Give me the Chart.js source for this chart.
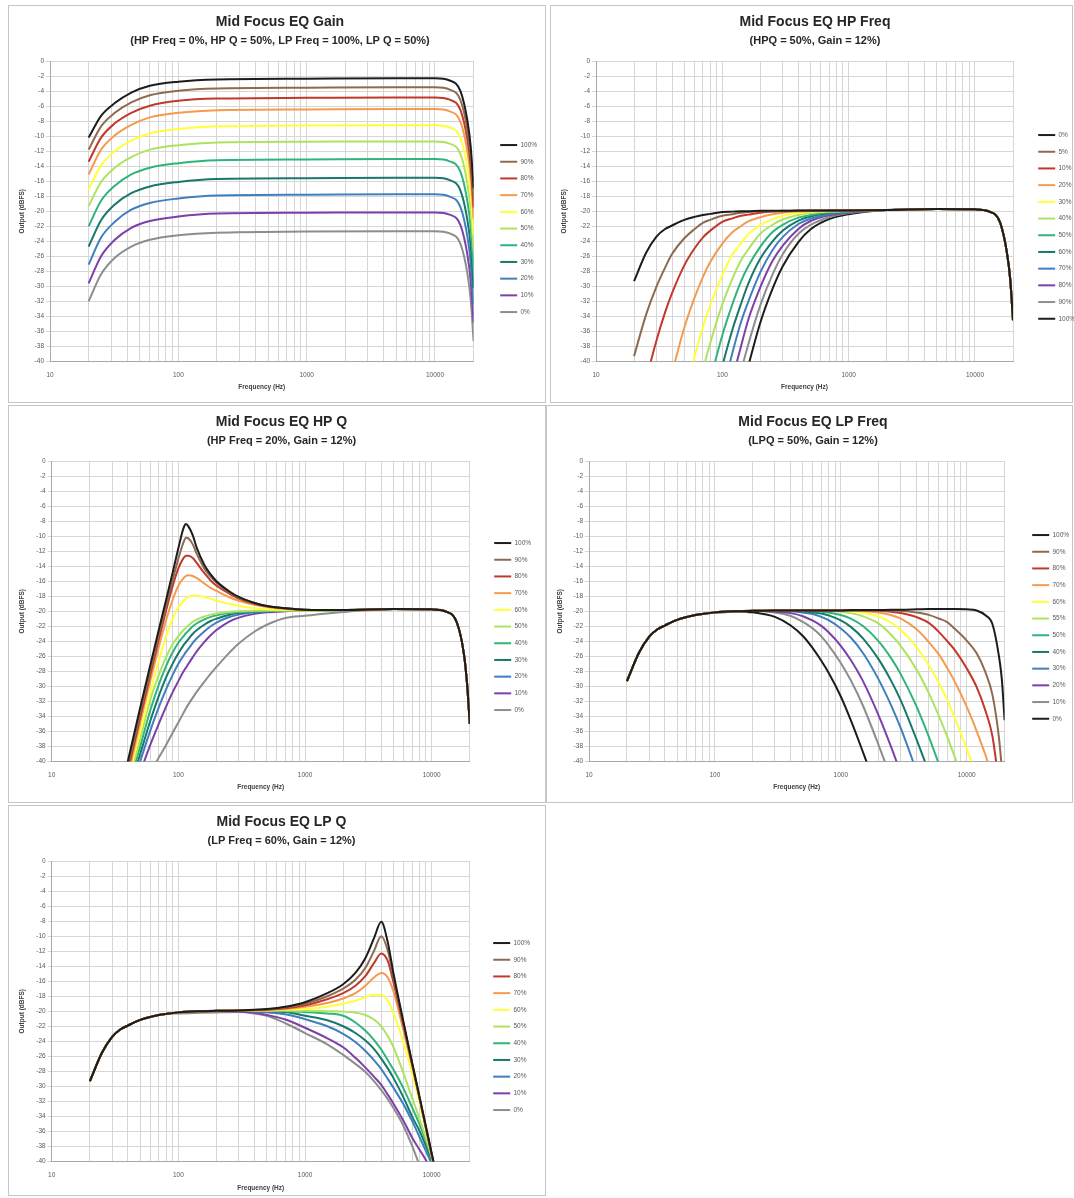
<!doctype html>
<html>
<head>
<meta charset="utf-8">
<title>Mid Focus EQ</title>
<script src="https://cdn.jsdelivr.net/npm/chart.js@4.4.1/dist/chart.umd.min.js"></script>
<style>
  html, body { margin: 0; padding: 0; background: #fff; }
  body { position: relative; width: 1074px; height: 1198px; overflow: hidden; }
  .frame { position: absolute; border: 1px solid #c6c6c6; box-sizing: border-box; }
  canvas { position: absolute; }
</style>
</head>
<body>
<div class="frame" style="left:8px;top:5px;width:538px;height:398px"></div>
<div class="frame" style="left:550px;top:5px;width:523px;height:398px"></div>
<div class="frame" style="left:8px;top:405px;width:538px;height:398px"></div>
<div class="frame" style="left:546px;top:405px;width:527px;height:398px"></div>
<div class="frame" style="left:8px;top:805px;width:538px;height:391px"></div>

<canvas id="gainChart" style="left:8px;top:5px" width="538" height="398"></canvas>
<canvas id="hpFreqChart" style="left:550px;top:5px" width="540" height="398"></canvas>
<canvas id="hpQChart" style="left:8px;top:405px" width="538" height="398"></canvas>
<canvas id="lpFreqChart" style="left:546px;top:405px" width="540" height="398"></canvas>
<canvas id="lpQChart" style="left:8px;top:805px" width="538" height="391"></canvas>

<script>
// ---- data (frequency in Hz, output in dBFS) ----
var freqTicks = [10, 20, 30, 40, 50, 60, 70, 80, 90, 100, 200, 300, 400, 500, 600, 700, 800, 900,
  1000, 2000, 3000, 4000, 5000, 6000, 7000, 8000, 9000, 10000, 20000];
var freqLabels = [10, 100, 1000, 10000];

// Gain
var gainFreqs = [20, 25, 32, 43, 60, 100, 200, 1000, 5000, 10000, 13000, 15800, 17900, 19000, 20000];
var gainLabels = ['100%', '90%', '80%', '70%', '60%', '50%', '40%', '30%', '20%', '10%', '0%'];
var gainSeries = [
  [-10.2, -7.3, -5.6, -4.2, -3.3, -2.75, -2.45, -2.35, -2.3, -2.3, -2.6, -4.0, -7.95, -11.45, -16.95],
  [-11.8, -8.7, -6.9, -5.5, -4.55, -3.95, -3.65, -3.55, -3.5, -3.5, -3.8, -5.2, -9.15, -12.65, -18.15],
  [-13.4, -10.2, -8.3, -6.9, -5.95, -5.3, -5.0, -4.9, -4.85, -4.85, -5.15, -6.55, -10.5, -14.0, -19.5],
  [-15.1, -11.8, -9.9, -8.5, -7.5, -6.9, -6.55, -6.45, -6.4, -6.4, -6.7, -8.1, -12.05, -15.55, -21.05],
  [-17.1, -13.9, -12.0, -10.6, -9.65, -9.05, -8.7, -8.6, -8.55, -8.55, -8.85, -10.25, -14.2, -17.7, -23.2],
  [-19.3, -16.1, -14.2, -12.8, -11.8, -11.2, -10.85, -10.75, -10.7, -10.7, -11.0, -12.4, -16.35, -19.85, -25.35],
  [-22.0, -18.6, -16.6, -15.1, -14.2, -13.6, -13.2, -13.1, -13.05, -13.05, -13.35, -14.75, -18.7, -22.2, -27.7],
  [-24.7, -21.2, -19.1, -17.6, -16.7, -16.1, -15.7, -15.6, -15.55, -15.55, -15.85, -17.25, -21.2, -24.7, -30.2],
  [-27.1, -23.5, -21.4, -19.8, -18.9, -18.3, -17.9, -17.8, -17.75, -17.75, -18.05, -19.45, -23.4, -26.9, -32.4],
  [-29.6, -26.0, -23.8, -22.2, -21.3, -20.7, -20.3, -20.2, -20.15, -20.15, -20.45, -21.85, -25.8, -29.3, -34.8],
  [-32.0, -28.4, -26.2, -24.7, -23.8, -23.2, -22.85, -22.7, -22.65, -22.65, -22.95, -24.35, -28.3, -31.8, -37.3]
];

// HP Freq
var hpFreqFreqs = [20, 25, 30, 35, 40, 50, 60, 70, 80, 100, 120, 140, 160, 200, 250, 300, 400, 500, 700, 1000,
  2000, 5000, 10000, 13000, 15800, 17900, 19000, 20000];
var hpFreqLabels = ['0%', '5%', '10%', '20%', '30%', '40%', '50%', '60%', '70%', '80%', '90%', '100%'];
var hpFreqSeries = [
  [-29.3, -25.5, -23.4, -22.4, -21.9, -21.15, -20.75, -20.5, -20.35, -20.1, -20.05, -20.0, -20.0, -19.95, -19.95, -19.95, -19.9, -19.9, -19.9, -19.9, -19.85, -19.7, -19.75, -20.05, -21.5, -25.5, -29.0, -34.5],
  [-39.3, -33.7, -30.1, -27.6, -25.7, -23.6, -22.4, -21.55, -21.15, -20.6, -20.4, -20.2, -20.1, -20.0, -20.0, -19.95, -19.95, -19.9, -19.9, -19.9, -19.85, -19.7, -19.75, -20.05, -21.5, -25.5, -29.0, -34.5],
  [-48.8, -42.3, -37.3, -33.6, -30.9, -27.2, -25.0, -23.5, -22.6, -21.4, -20.95, -20.6, -20.45, -20.2, -20.05, -20.0, -19.95, -19.95, -19.9, -19.9, -19.85, -19.7, -19.75, -20.05, -21.5, -25.5, -29.0, -34.5],
  [null, null, null, -45.4, -41.5, -35.5, -31.6, -28.8, -26.8, -24.3, -22.8, -22.0, -21.35, -20.8, -20.4, -20.2, -20.05, -20.0, -19.95, -19.9, -19.85, -19.7, -19.75, -20.05, -21.5, -25.5, -29.0, -34.5],
  [null, null, null, null, null, -44.8, -39.5, -35.5, -32.55, -28.5, -25.8, -24.3, -23.05, -21.85, -21.05, -20.6, -20.25, -20.1, -20.0, -19.95, -19.85, -19.7, -19.75, -20.05, -21.5, -25.5, -29.0, -34.5],
  [null, null, null, null, null, null, -45.7, -41.2, -37.6, -32.4, -29.0, -26.6, -25.1, -23.0, -21.8, -21.1, -20.5, -20.25, -20.05, -20.0, -19.85, -19.7, -19.75, -20.05, -21.5, -25.5, -29.0, -34.5],
  [null, null, null, null, null, null, null, -46.5, -42.6, -36.5, -32.4, -29.4, -27.35, -24.7, -22.75, -21.8, -20.85, -20.5, -20.15, -20.0, -19.85, -19.7, -19.75, -20.05, -21.5, -25.5, -29.0, -34.5],
  [null, null, null, null, null, null, null, null, -47.1, -40.6, -35.8, -32.4, -29.7, -26.3, -24.0, -22.6, -21.25, -20.7, -20.25, -20.05, -19.85, -19.7, -19.75, -20.05, -21.5, -25.5, -29.0, -34.5],
  [null, null, null, null, null, null, null, null, -50.6, -44.1, -38.9, -34.85, -32.1, -28.1, -25.15, -23.45, -21.7, -21.0, -20.4, -20.1, -19.85, -19.7, -19.75, -20.05, -21.5, -25.5, -29.0, -34.5],
  [null, null, null, null, null, null, null, null, null, -47.6, -42.3, -38.1, -34.5, -30.1, -26.6, -24.6, -22.35, -21.3, -20.55, -20.2, -19.85, -19.7, -19.75, -20.05, -21.5, -25.5, -29.0, -34.5],
  [null, null, null, null, null, null, null, null, null, null, -45.9, -41.4, -37.8, -32.5, -28.4, -25.75, -23.0, -21.8, -20.8, -20.25, -19.85, -19.7, -19.75, -20.05, -21.5, -25.5, -29.0, -34.5],
  [null, null, null, null, null, null, null, null, null, null, null, -44.6, -40.7, -34.8, -30.3, -27.35, -24.1, -22.4, -21.05, -20.4, -19.85, -19.7, -19.75, -20.05, -21.5, -25.5, -29.0, -34.5]
];

// HP Q
var hpQFreqs = [30, 40, 50, 60, 70, 80, 90, 100, 110, 115, 120, 130, 140, 160, 180, 200, 250, 300, 400, 500, 700, 1000,
  2000, 5000, 10000, 13000, 15800, 17900, 19000, 20000];
var hpQLabels = ['100%', '90%', '80%', '70%', '60%', '50%', '40%', '30%', '20%', '10%', '0%'];
var hpQSeries = [
  [-49.5, -39.9, -32.8, -27.2, -22.5, -18.5, -14.9, -11.6, -8.9, -8.4, -8.7, -9.9, -11.6, -13.8, -15.1, -16.0, -17.3, -18.1, -18.9, -19.3, -19.6, -19.8, -19.85, -19.7, -19.75, -20.05, -21.5, -25.5, -29.5, -35],
  [-50.2, -40.6, -33.5, -27.9, -23.2, -19.3, -15.9, -13.0, -10.8, -10.2, -10.3, -11.1, -12.4, -14.3, -15.4, -16.2, -17.4, -18.2, -18.9, -19.3, -19.6, -19.8, -19.85, -19.7, -19.75, -20.05, -21.5, -25.5, -29.5, -35],
  [-50.8, -41.2, -34.1, -28.5, -23.8, -19.9, -16.7, -14.3, -12.9, -12.6, -12.6, -12.9, -13.6, -14.9, -15.9, -16.6, -17.6, -18.3, -19.0, -19.35, -19.6, -19.8, -19.85, -19.7, -19.75, -20.05, -21.5, -25.5, -29.5, -35],
  [-51.4, -41.8, -34.8, -29.3, -24.8, -21.2, -18.5, -16.6, -15.6, -15.3, -15.2, -15.3, -15.6, -16.3, -16.9, -17.3, -18.1, -18.6, -19.15, -19.45, -19.7, -19.85, -19.85, -19.7, -19.75, -20.05, -21.5, -25.5, -29.5, -35],
  [-53.0, -42.5, -36.0, -30.8, -26.6, -23.4, -21.0, -19.5, -18.6, -18.3, -18.1, -17.95, -17.95, -18.1, -18.35, -18.6, -19.0, -19.3, -19.6, -19.75, -19.85, -19.9, -19.85, -19.7, -19.75, -20.05, -21.5, -25.5, -29.5, -35],
  [-54.0, -43.2, -37.0, -31.8, -28.5, -26.1, -24.4, -23.3, -22.5, -22.2, -21.9, -21.4, -21.1, -20.7, -20.45, -20.3, -20.1, -20.0, -19.95, -19.9, -19.9, -19.9, -19.85, -19.7, -19.75, -20.05, -21.5, -25.5, -29.5, -35],
  [-55.0, -43.8, -38.0, -33.2, -29.8, -27.3, -25.5, -24.2, -23.3, -22.9, -22.6, -22.0, -21.6, -21.1, -20.75, -20.55, -20.25, -20.1, -20.0, -19.95, -19.9, -19.9, -19.85, -19.7, -19.75, -20.05, -21.5, -25.5, -29.5, -35],
  [-56.0, -44.5, -39.0, -34.6, -31.3, -28.8, -27.0, -25.6, -24.5, -24.1, -23.7, -23.0, -22.5, -21.8, -21.3, -21.0, -20.5, -20.25, -20.05, -20.0, -19.9, -19.9, -19.85, -19.7, -19.75, -20.05, -21.5, -25.5, -29.5, -35],
  [-57.0, -45.3, -40.0, -35.9, -32.8, -30.4, -28.5, -27.0, -25.9, -25.4, -25.0, -24.2, -23.6, -22.7, -22.0, -21.5, -20.8, -20.45, -20.15, -20.05, -19.95, -19.9, -19.85, -19.7, -19.75, -20.05, -21.5, -25.5, -29.5, -35],
  [-58.0, -46.5, -41.5, -37.8, -35.0, -32.7, -30.8, -29.3, -28.0, -27.5, -27.0, -26.1, -25.3, -24.1, -23.2, -22.5, -21.4, -20.85, -20.35, -20.15, -20.0, -19.9, -19.85, -19.7, -19.75, -20.05, -21.5, -25.5, -29.5, -35],
  [-50.5, -46.6, -43.7, -41.4, -39.5, -37.8, -36.2, -34.8, -33.5, -32.9, -32.4, -31.5, -30.7, -29.4, -28.3, -27.4, -25.6, -24.3, -22.7, -21.8, -20.9, -20.6, -20.1, -19.75, -19.75, -20.05, -21.5, -25.5, -29.5, -35]
];

// LP Freq
var lpFreqFreqs = [20, 25, 30, 35, 40, 50, 60, 70, 80, 100, 150, 200, 300, 400, 500, 600, 700, 800, 1000, 1200, 1500,
  2000, 2500, 3000, 4000, 5000, 6000, 7000, 8000, 10000, 12000, 14000, 16000, 18000, 19000, 20000];
var lpFreqLabels = ['100%', '90%', '80%', '70%', '60%', '55%', '50%', '40%', '30%', '20%', '10%', '0%'];
var lpFreqSeries = [
  [-29.3, -25.5, -23.4, -22.4, -21.9, -21.15, -20.75, -20.5, -20.35, -20.15, -20.0, -19.95, -19.9, -19.9, -19.9, -19.9, -19.9, -19.9, -19.9, -19.85, -19.85, -19.85, -19.8, -19.8, -19.75, -19.7, -19.7, -19.7, -19.7, -19.75, -19.9, -20.5, -21.7, -25.9, -29.0, -34.5],
  [-29.3, -25.5, -23.4, -22.4, -21.9, -21.15, -20.75, -20.5, -20.35, -20.15, -20.0, -19.95, -19.9, -19.9, -19.9, -19.9, -19.9, -19.9, -19.9, -19.9, -19.9, -19.9, -19.9, -19.95, -20.17, -20.48, -20.97, -21.45, -22.3, -23.9, -25.6, -28.0, -31.1, -36.7, -40.8, null],
  [-29.3, -25.5, -23.4, -22.4, -21.9, -21.15, -20.75, -20.5, -20.35, -20.15, -20.0, -19.95, -19.9, -19.9, -19.9, -19.9, -19.9, -19.9, -19.9, -19.9, -19.9, -19.95, -20.06, -20.24, -20.79, -21.55, -22.74, -23.98, -25.1, -27.6, -30.1, -33.1, -36.6, -42.8, null, null],
  [-29.3, -25.5, -23.4, -22.4, -21.9, -21.15, -20.75, -20.5, -20.35, -20.15, -20.0, -19.95, -19.9, -19.9, -19.9, -19.9, -19.9, -19.9, -19.9, -19.9, -19.96, -20.18, -20.51, -20.98, -22.4, -24.1, -25.74, -27.55, -29.3, -32.7, -35.95, -39.0, -42.0, null, null, null],
  [-29.3, -25.5, -23.4, -22.4, -21.9, -21.15, -20.75, -20.5, -20.35, -20.15, -20.0, -19.95, -19.9, -19.9, -19.9, -19.9, -19.9, -19.9, -19.95, -20.01, -20.2, -20.7, -21.5, -22.5, -24.77, -27.2, -29.55, -31.8, -34.1, -38.3, -41.9, null, null, null, null, null],
  [-29.3, -25.5, -23.4, -22.4, -21.9, -21.15, -20.75, -20.5, -20.35, -20.15, -20.0, -19.95, -19.9, -19.9, -19.9, -19.9, -19.95, -19.95, -20.07, -20.25, -20.67, -21.65, -23.1, -24.64, -27.77, -30.9, -33.9, -36.7, -39.3, -43.7, null, null, null, null, null, null],
  [-29.3, -25.5, -23.4, -22.4, -21.9, -21.15, -20.75, -20.5, -20.35, -20.15, -20.0, -19.95, -19.9, -19.9, -19.95, -19.96, -20.06, -20.18, -20.5, -20.97, -21.96, -24.0, -26.2, -28.4, -32.7, -36.7, -40.3, null, null, null, null, null, null, null, null, null],
  [-29.3, -25.5, -23.4, -22.4, -21.9, -21.15, -20.75, -20.5, -20.35, -20.15, -20.0, -19.95, -19.9, -19.95, -20.0, -20.13, -20.3, -20.55, -21.23, -22.08, -23.6, -26.4, -29.2, -31.9, -37.1, -41.4, null, null, null, null, null, null, null, null, null, null],
  [-29.3, -25.5, -23.4, -22.4, -21.9, -21.15, -20.75, -20.5, -20.35, -20.15, -20.0, -19.95, -19.95, -20.0, -20.16, -20.37, -20.74, -21.19, -22.29, -23.5, -25.55, -29.1, -32.46, -35.6, -41.3, null, null, null, null, null, null, null, null, null, null, null],
  [-29.3, -25.5, -23.4, -22.4, -21.9, -21.15, -20.75, -20.5, -20.35, -20.15, -20.0, -19.95, -20.05, -20.25, -20.66, -21.26, -21.95, -22.8, -24.6, -26.5, -29.3, -33.9, -38.0, -41.6, null, null, null, null, null, null, null, null, null, null, null, null],
  [-29.3, -25.5, -23.4, -22.4, -21.9, -21.15, -20.75, -20.5, -20.35, -20.15, -20.0, -19.95, -20.17, -20.64, -21.4, -22.3, -23.34, -24.53, -26.88, -29.19, -32.58, -37.84, -42.2, null, null, null, null, null, null, null, null, null, null, null, null, null],
  [-29.3, -25.5, -23.4, -22.4, -21.9, -21.15, -20.75, -20.5, -20.35, -20.2, -20.05, -20.15, -20.75, -21.9, -23.3, -24.95, -26.6, -28.2, -31.35, -34.5, -38.75, -44.4, null, null, null, null, null, null, null, null, null, null, null, null, null, null]
];

// LP Q
var lpQFreqs = [20, 25, 30, 35, 40, 50, 60, 70, 80, 100, 150, 200, 300, 400, 500, 700, 1000, 1500, 2000, 2500,
  3000, 3500, 4000, 4500, 5000, 6000, 7000, 8000, 9000, 10000, 11000];
var lpQLabels = ['100%', '90%', '80%', '70%', '60%', '50%', '40%', '30%', '20%', '10%', '0%'];
var lpQSeries = [
  [-29.3, -25.5, -23.4, -22.4, -21.9, -21.15, -20.75, -20.5, -20.35, -20.15, -20.0, -19.95, -19.9, -19.8, -19.7, -19.4, -18.8, -17.6, -16.4, -14.9, -12.9, -10.3, -8.1, -10.8, -15.0, -21.5, -26.8, -31.3, -35.3, -38.9, -42.1],
  [-29.3, -25.5, -23.4, -22.4, -21.9, -21.15, -20.75, -20.5, -20.35, -20.15, -20.0, -19.95, -19.9, -19.85, -19.75, -19.5, -19.0, -18.0, -17.0, -15.8, -14.2, -12.0, -10.0, -11.9, -15.5, -21.7, -26.9, -31.4, -35.4, -39.0, -42.2],
  [-29.3, -25.5, -23.4, -22.4, -21.9, -21.15, -20.75, -20.5, -20.35, -20.15, -20.0, -19.95, -19.9, -19.85, -19.8, -19.6, -19.2, -18.4, -17.6, -16.6, -15.3, -13.6, -12.3, -13.3, -16.2, -22.0, -27.0, -31.5, -35.5, -39.1, -42.3],
  [-29.3, -25.5, -23.4, -22.4, -21.9, -21.15, -20.75, -20.5, -20.35, -20.15, -20.0, -19.95, -19.9, -19.9, -19.85, -19.7, -19.4, -18.9, -18.3, -17.6, -16.6, -15.5, -14.9, -15.5, -17.4, -22.6, -27.3, -31.6, -35.6, -39.2, -42.4],
  [-29.3, -25.5, -23.4, -22.4, -21.9, -21.15, -20.75, -20.5, -20.35, -20.15, -20.0, -19.95, -19.9, -19.9, -19.9, -19.8, -19.7, -19.4, -19.0, -18.6, -18.1, -17.8, -17.8, -18.6, -20.3, -24.2, -28.2, -32.1, -35.8, -39.3, -42.5],
  [-29.3, -25.5, -23.4, -22.4, -21.9, -21.15, -20.75, -20.5, -20.35, -20.15, -20.0, -19.95, -19.9, -19.9, -19.9, -19.9, -19.95, -20.0, -20.05, -20.2, -20.5, -21.1, -22.0, -23.3, -24.8, -28.3, -31.5, -34.3, -36.9, -39.4, -42.6],
  [-29.3, -25.5, -23.4, -22.4, -21.9, -21.15, -20.75, -20.5, -20.35, -20.15, -20.0, -19.95, -19.9, -19.95, -19.95, -20.0, -20.1, -20.3, -20.6, -21.5, -22.6, -23.8, -25.1, -26.5, -27.8, -30.3, -32.8, -35.0, -37.3, -39.5, -41.7],
  [-29.3, -25.5, -23.4, -22.4, -21.9, -21.15, -20.75, -20.5, -20.35, -20.15, -20.0, -19.95, -19.9, -19.95, -20.0, -20.1, -20.6, -21.2, -22.0, -22.9, -23.9, -25.0, -26.3, -27.6, -28.9, -31.5, -34.0, -35.9, -37.9, -39.8, -41.5],
  [-29.3, -25.5, -23.4, -22.4, -21.9, -21.15, -20.75, -20.5, -20.35, -20.15, -20.0, -19.95, -19.95, -20.05, -20.15, -20.4, -21.05, -22.0, -23.0, -24.1, -25.3, -26.5, -27.7, -29.0, -30.2, -32.4, -34.6, -36.7, -38.6, -40.3, -42.0],
  [-29.3, -25.5, -23.4, -22.4, -21.9, -21.15, -20.75, -20.5, -20.35, -20.15, -20.0, -19.95, -20.05, -20.2, -20.5, -21.1, -22.2, -23.6, -24.8, -26.2, -27.5, -28.7, -29.8, -31.1, -32.3, -34.6, -36.8, -38.4, -39.8, -41.5, -43.0],
  [-29.3, -25.5, -23.4, -22.4, -21.9, -21.15, -20.75, -20.5, -20.35, -20.3, -20.2, -20.15, -20.1, -20.3, -20.6, -21.6, -22.9, -24.4, -25.8, -27.0, -28.1, -29.3, -30.5, -31.7, -32.9, -35.3, -37.9, -40.5, -43.0, null, null]
];

// ---- styles ----
var colors11 = ['#1c1c1c', '#8e6b50', '#c0392b', '#f59a4e', '#ffff3a', '#ade35f', '#2fb57b', '#17786b', '#3f7fbf', '#7d3fa8', '#8d8d8d'];
var colors12 = ['#1c1c1c', '#8e6b50', '#c0392b', '#f59a4e', '#ffff3a', '#ade35f', '#2fb57b', '#17786b', '#3f7fbf', '#7d3fa8', '#8d8d8d', '#1c1c1c'];

Chart.defaults.font.family = "'Liberation Sans', Arial, sans-serif";
Chart.defaults.color = '#595959';

// moves the title + subtitle sideways so they sit where the reference has them
var shiftTitles = {
  id: 'shiftTitles',
  afterLayout: function(chart, args, opts) {
    chart.boxes.forEach(function(b) {
      if (b.position === 'top' && b.options && typeof b.options.text === 'string') {
        b.left += opts.dx; b.right += opts.dx;
      }
    });
  }
};

function drawPanel(id, p) {
  var datasets = p.series.map(function(vals, i) {
    return {
      label: p.labels[i],
      data: p.freqs.map(function(f, j) { return { x: f, y: vals[j] }; }),
      borderColor: p.colors[i],
      backgroundColor: p.colors[i],
      borderWidth: 2,
      pointRadius: 0,
      fill: false,
      cubicInterpolationMode: 'monotone'
    };
  });

  new Chart(document.getElementById(id), {
    type: 'line',
    data: { datasets: datasets },
    plugins: [shiftTitles],
    options: {
      responsive: false,
      animation: false,
      events: [],
      layout: { padding: { left: 0, right: p.padRight, top: 0, bottom: p.padBottom } },
      plugins: {
        shiftTitles: { dx: p.titleDx },
        title: {
          display: true, text: p.title, color: '#262626',
          font: { size: 14, weight: 'bold' }, padding: { top: 8.6, bottom: 0 }
        },
        subtitle: {
          display: true, text: p.subtitle, color: '#262626',
          font: { size: 11, weight: 'bold' }, padding: { top: 4, bottom: 13.4 }
        },
        legend: {
          position: 'right',
          align: 'start',
          maxWidth: 54,
          title: { display: true, text: ' ', font: { size: 1 }, padding: { top: p.legendTop, bottom: 0 } },
          labels: {
            usePointStyle: true, pointStyle: 'line', pointStyleWidth: 17,
            padding: 10.2, color: '#595959', font: { size: 6.5 }
          }
        },
        tooltip: { enabled: false }
      },
      scales: {
        x: {
          type: 'logarithmic', min: 10, max: 20000,
          afterBuildTicks: function(s) { s.ticks = freqTicks.map(function(v) { return { value: v }; }); },
          afterFit: function(s) { s.height = p.xHeight; },
          grid: { color: '#d6d6d6', drawTicks: false },
          border: { color: '#a8a8a8' },
          ticks: {
            autoSkip: false, maxRotation: 0, padding: 10, color: '#595959', font: { size: 6.5 },
            callback: function(v) { return freqLabels.indexOf(v) >= 0 ? String(v) : ''; }
          },
          title: {
            display: true, text: 'Frequency (Hz)', color: '#404040',
            font: { size: 6.5, weight: 'bold' }, padding: { top: 0, bottom: 4 }
          }
        },
        y: {
          min: -40, max: 0,
          afterFit: function(s) { s.width = p.yWidth; },
          grid: { color: '#d6d6d6', tickLength: 4 },
          border: { color: '#a8a8a8' },
          ticks: { stepSize: 2, autoSkip: false, padding: 2, color: '#595959', font: { size: 6.5 } },
          title: {
            display: true, text: 'Output (dBFS)', color: '#404040',
            font: { size: 6.5, weight: 'bold' }, padding: { top: 10, bottom: 0 }
          }
        },
        gap: {
          type: 'linear', axis: 'y', position: 'right', display: true,
          grid: { display: false }, border: { display: false }, ticks: { display: false },
          afterFit: function(s) { s.width = p.gap; }
        }
      }
    }
  });
}

drawPanel('gainChart', {
  title: 'Mid Focus EQ Gain', subtitle: '(HP Freq = 0%, HP Q = 50%, LP Freq = 100%, LP Q = 50%)',
  freqs: gainFreqs, labels: gainLabels, series: gainSeries, colors: colors11,
  yWidth: 42, gap: 16.4, padRight: 2, padBottom: 8, xHeight: 33.5, titleDx: 4, legendTop: 125.4
});
drawPanel('hpFreqChart', {
  title: 'Mid Focus EQ HP Freq', subtitle: '(HPQ = 50%, Gain = 12%)',
  freqs: hpFreqFreqs, labels: hpFreqLabels, series: hpFreqSeries, colors: colors12,
  yWidth: 46, gap: 15, padRight: 8, padBottom: 8, xHeight: 33.5, titleDx: -1, legendTop: 115.4
});
drawPanel('hpQChart', {
  title: 'Mid Focus EQ HP Q', subtitle: '(HP Freq = 20%, Gain = 12%)',
  freqs: hpQFreqs, labels: hpQLabels, series: hpQSeries, colors: colors11,
  yWidth: 43.7, gap: 14.2, padRight: 8, padBottom: 8, xHeight: 33.5, titleDx: 8.5, legendTop: 123.4
});
drawPanel('lpFreqChart', {
  title: 'Mid Focus EQ LP Freq', subtitle: '(LPQ = 50%, Gain = 12%)',
  freqs: lpFreqFreqs, labels: lpFreqLabels, series: lpFreqSeries, colors: colors12,
  yWidth: 43, gap: 17.4, padRight: 10, padBottom: 8, xHeight: 33.5, titleDx: 2, legendTop: 115.4
});
drawPanel('lpQChart', {
  title: 'Mid Focus EQ LP Q', subtitle: '(LP Freq = 60%, Gain = 12%)',
  freqs: lpQFreqs, labels: lpQLabels, series: lpQSeries, colors: colors11,
  yWidth: 43.7, gap: 13.2, padRight: 9, padBottom: 0, xHeight: 34.5, titleDx: 9, legendTop: 123.4
});
</script>
</body>
</html>
